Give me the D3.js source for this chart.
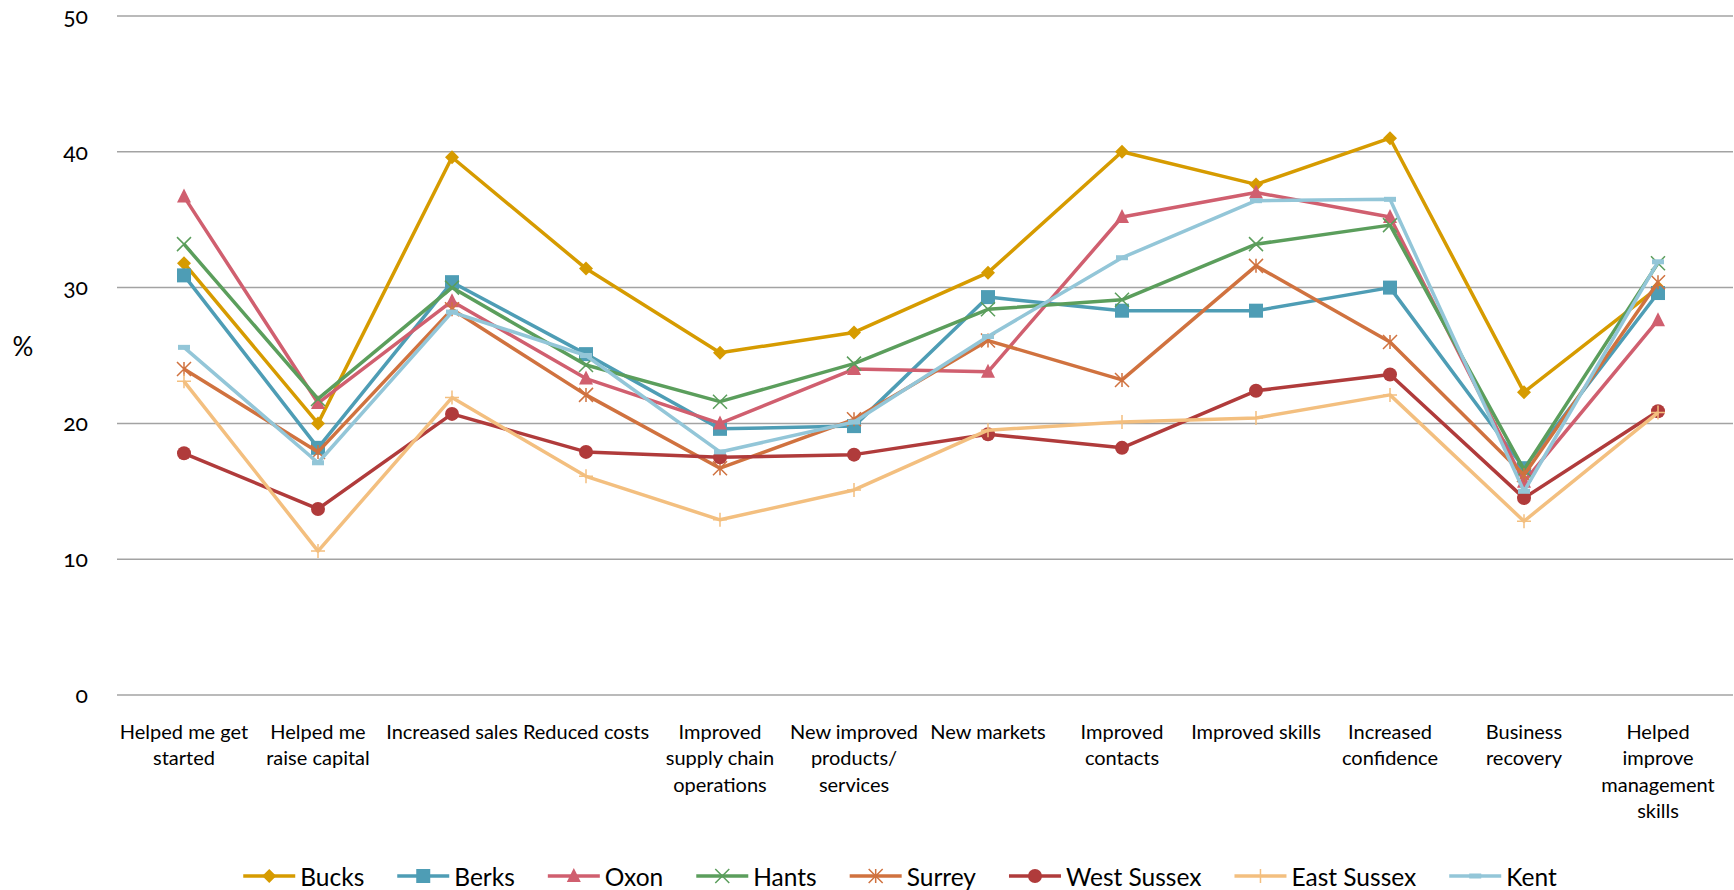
<!DOCTYPE html>
<html>
<head>
<meta charset="utf-8">
<script src="https://cdn.jsdelivr.net/npm/d3@7"></script>
<style>
  html, body { margin: 0; padding: 0; background: #ffffff; }
  svg { display: block; font-family: Lato, "Open Sans", sans-serif; }
</style>
</head>
<body>
<svg id="chart" width="1734" height="890"></svg>
<script>
// ---- data ----
const categories = [
  ["Helped me get", "started"],
  ["Helped me", "raise capital"],
  ["Increased sales"],
  ["Reduced costs"],
  ["Improved", "supply chain", "operations"],
  ["New improved", "products/", "services"],
  ["New markets"],
  ["Improved", "contacts"],
  ["Improved skills"],
  ["Increased", "confidence"],
  ["Business", "recovery"],
  ["Helped", "improve", "management", "skills"]
];
const seriesNames = ["Bucks", "Berks", "Oxon", "Hants", "Surrey", "West Sussex", "East Sussex", "Kent"];
const bucks       = [31.8, 20.0, 39.6, 31.4, 25.2, 26.7, 31.1, 40.0, 37.6, 41.0, 22.3, 30.0];
const berks       = [30.9, 18.2, 30.4, 25.1, 19.6, 19.8, 29.3, 28.3, 28.3, 30.0, 16.7, 29.6];
const oxon        = [36.7, 21.5, 29.0, 23.3, 20.0, 24.0, 23.8, 35.2, 37.0, 35.2, 15.7, 27.6];
const hants       = [33.2, 21.8, 30.0, 24.3, 21.6, 24.4, 28.4, 29.1, 33.2, 34.6, 16.6, 31.8];
const surrey      = [24.0, 17.9, 28.4, 22.1, 16.7, 20.3, 26.1, 23.2, 31.6, 26.0, 16.2, 30.4];
const westSussex  = [17.8, 13.7, 20.7, 17.9, 17.5, 17.7, 19.2, 18.2, 22.4, 23.6, 14.5, 20.9];
const eastSussex  = [23.1, 10.6, 21.9, 16.1, 12.9, 15.1, 19.5, 20.1, 20.4, 22.1, 12.8, 20.8];
const kent        = [25.6, 17.1, 28.2, 25.0, 17.9, 20.1, 26.4, 32.2, 36.4, 36.5, 15.0, 31.9];
const seriesValues = [bucks, berks, oxon, hants, surrey, westSussex, eastSussex, kent];
const yTicks = [0, 10, 20, 30, 40, 50];
const yLabel = "%";

// ---- styles ----
const colors  = ["#d69b00", "#4e9db5", "#d05f6f", "#5b9e5c", "#d0723f", "#b03b3b", "#f3bf7f", "#93c6d8"];
const markers = ["diamond", "square", "triangle", "x", "asterisk", "circle", "plus", "dash"];

const svg = d3.select("#chart");
const plot = { left: 117, right: 1725, top: 16, bottom: 695 };

const x = d3.scaleBand().domain(d3.range(categories.length)).range([plot.left, plot.right]).padding(0);
const y = d3.scaleLinear().domain([0, 50]).range([plot.bottom, plot.top]);

// gridlines
svg.append("g").selectAll("line").data(yTicks).join("line")
  .attr("x1", plot.left).attr("x2", 1733)
  .attr("y1", d => y(d)).attr("y2", d => y(d))
  .attr("stroke", "#a3a3a3").attr("stroke-width", 1.5);

// y axis tick labels
const yAxis = d3.axisLeft(y).tickValues(yTicks).tickSize(0).tickPadding(0).tickFormat(d3.format("d"));
const yg = svg.append("g").attr("transform", `translate(88,0)`).call(yAxis);
yg.select(".domain").remove();
yg.selectAll("text").attr("font-size", 23).attr("fill", "#000")
  .attr("font-family", "Lato, sans-serif").style("font-variant-numeric", "oldstyle-nums");

svg.append("text").attr("x", 23).attr("y", 346).attr("text-anchor", "middle")
  .attr("dominant-baseline", "central").attr("font-size", 26).attr("fill", "#000").text(yLabel);

// x category labels
const xg = svg.append("g");
categories.forEach((lines, i) => {
  const t = xg.append("text").attr("text-anchor", "middle")
    .attr("font-size", 20).attr("fill", "#000")
    .attr("transform", `translate(${x(i) + x.bandwidth() / 2},739)`);
  lines.forEach((ln, j) => {
    t.append("tspan").attr("x", 0).attr("y", j * 26.3).text(ln);
  });
});

// marker drawing
function drawMarker(g, type, color, cx, cy) {
  const s = 7;
  switch (type) {
    case "diamond":
      g.append("path").attr("d", `M${cx},${cy - s}L${cx + s},${cy}L${cx},${cy + s}L${cx - s},${cy}Z`).attr("fill", color);
      break;
    case "square":
      g.append("rect").attr("x", cx - s).attr("y", cy - s).attr("width", 2 * s).attr("height", 2 * s).attr("fill", color);
      break;
    case "triangle":
      g.append("path").attr("d", `M${cx},${cy - s - 1}L${cx + s},${cy + s - 1}L${cx - s},${cy + s - 1}Z`).attr("fill", color);
      break;
    case "circle":
      g.append("circle").attr("cx", cx).attr("cy", cy).attr("r", s).attr("fill", color);
      break;
    case "x":
      g.append("path").attr("d", `M${cx - s},${cy - s}L${cx + s},${cy + s}M${cx - s},${cy + s}L${cx + s},${cy - s}`)
        .attr("stroke", color).attr("stroke-width", 1.5).attr("fill", "none");
      break;
    case "asterisk":
      g.append("path").attr("d", `M${cx - s},${cy - s}L${cx + s},${cy + s}M${cx - s},${cy + s}L${cx + s},${cy - s}M${cx},${cy - s}L${cx},${cy + s}`)
        .attr("stroke", color).attr("stroke-width", 1.5).attr("fill", "none");
      break;
    case "plus":
      g.append("path").attr("d", `M${cx - s},${cy}L${cx + s},${cy}M${cx},${cy - s}L${cx},${cy + s}`)
        .attr("stroke", color).attr("stroke-width", 1.5).attr("fill", "none");
      break;
    case "dash":
      g.append("rect").attr("x", cx - 6).attr("y", cy - 2.5).attr("width", 12).attr("height", 5).attr("fill", color);
      break;
  }
}

// series lines + markers
const line = d3.line().x((d, i) => x(i) + x.bandwidth() / 2).y(d => y(d));
seriesValues.forEach((vals, si) => {
  const g = svg.append("g");
  g.append("path").datum(vals).attr("d", line)
    .attr("fill", "none").attr("stroke", colors[si]).attr("stroke-width", 3.5)
    .attr("stroke-linejoin", "round");
  vals.forEach((v, i) => drawMarker(g, markers[si], colors[si], x(i) + x.bandwidth() / 2, y(v)));
});

// legend
const legend = svg.append("g");
const legY = 876;
const lineLen = 52, textGap = 5, itemGap = 33;
let cur = 0;
seriesNames.forEach((name, si) => {
  const g = legend.append("g");
  g.append("line").attr("x1", cur).attr("x2", cur + lineLen).attr("y1", legY).attr("y2", legY)
    .attr("stroke", colors[si]).attr("stroke-width", 3.5);
  drawMarker(g, markers[si], colors[si], cur + lineLen / 2, legY);
  const t = g.append("text").attr("x", cur + lineLen + textGap).attr("y", legY)
    .attr("dominant-baseline", "central").attr("font-size", 24.5).attr("fill", "#000").text(name);
  cur += lineLen + textGap + t.node().getComputedTextLength() + itemGap;
});
const totalW = cur - itemGap;
legend.attr("transform", `translate(${900 - totalW / 2},0)`);
</script>
</body>
</html>
